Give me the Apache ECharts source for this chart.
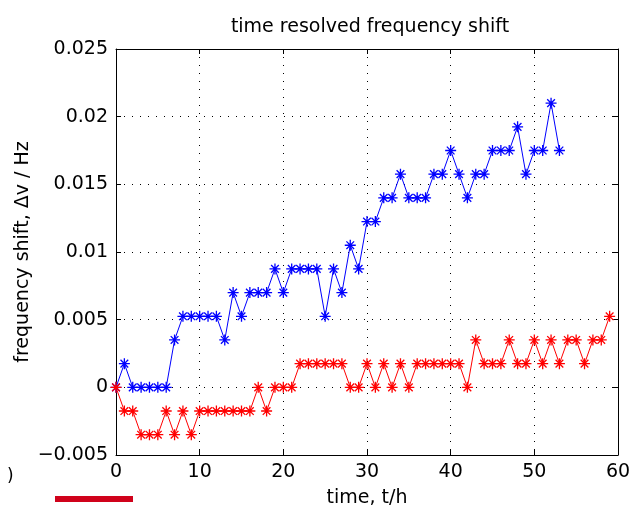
<!DOCTYPE html>
<html>
<head>
<meta charset="utf-8">
<script src="https://cdn.jsdelivr.net/npm/echarts@6/dist/echarts.min.js"></script>
<style>html,body{margin:0;padding:0;background:#fff}#c{width:630px;height:507px}</style>
</head>
<body>
<div id="c"></div>
<script>
const titleText = 'time resolved frequency shift';
const xLabel = 'time, t/h';
const yLabel = 'frequency shift, \u0394v / Hz';
const xTicks = [0, 10, 20, 30, 40, 50, 60];
const yTicks = [-0.005, 0, 0.005, 0.01, 0.015, 0.02, 0.025];
const blueTimes = [0,1,2,3,4,5,6,7,8,9,10,11,12,13,14,15,16,17,18,19,20,21,22,23,24,25,26,27,28,29,30,31,32,33,34,35,36,37,38,39,40,41,42,43,44,45,46,47,48,49,50,51,52,53];
const blueShift = [0,0.00175,0,0,0,0,0,0.0035,0.00525,0.00525,0.00525,0.00525,0.00525,0.0035,0.007,0.00525,0.007,0.007,0.007,0.00875,0.007,0.00875,0.00875,0.00875,0.00875,0.00525,0.00875,0.007,0.0105,0.00875,0.01225,0.01225,0.014,0.014,0.01575,0.014,0.014,0.014,0.01575,0.01575,0.0175,0.01575,0.014,0.01575,0.01575,0.0175,0.0175,0.0175,0.01925,0.01575,0.0175,0.0175,0.021,0.0175];
const redTimes = [0,1,2,3,4,5,6,7,8,9,10,11,12,13,14,15,16,17,18,19,20,21,22,23,24,25,26,27,28,29,30,31,32,33,34,35,36,37,38,39,40,41,42,43,44,45,46,47,48,49,50,51,52,53,54,55,56,57,58,59];
const redShift = [0,-0.00175,-0.00175,-0.0035,-0.0035,-0.0035,-0.00175,-0.0035,-0.00175,-0.0035,-0.00175,-0.00175,-0.00175,-0.00175,-0.00175,-0.00175,-0.00175,0,-0.00175,0,0,0,0.00175,0.00175,0.00175,0.00175,0.00175,0.00175,0,0,0.00175,0,0.00175,0,0.00175,0,0.00175,0.00175,0.00175,0.00175,0.00175,0.00175,0,0.0035,0.00175,0.00175,0.00175,0.0035,0.00175,0.00175,0.0035,0.00175,0.0035,0.00175,0.0035,0.0035,0.00175,0.0035,0.0035,0.00525];

const FONT = '"DejaVu Sans", sans-serif';
const FS = 19;
const star = 'path://M0,-1L0,1M-1,0L1,0M-0.7,-0.7L0.7,0.7M-0.7,0.7L0.7,-0.7';
const fmtY = v => { const s = String(+v.toFixed(3)); return s.replace('-', '\u2212'); };
const grid = { type: [1, 7], color: '#000', width: 1 };

const chart = echarts.init(document.getElementById('c'), null, { renderer: 'canvas' });
chart.setOption({
  animation: false,
  backgroundColor: '#fff',
  title: { text: titleText, left: 365, top: 13, textAlign: 'center',
    textStyle: { fontFamily: FONT, fontSize: FS, fontWeight: 'normal', color: '#000' } },
  grid: { left: 116, right: 12, top: 49, bottom: 52, containLabel: false, outerBoundsMode: 'none' },
  xAxis: [{
    type: 'value', min: xTicks[0], max: xTicks[xTicks.length - 1], interval: 10,
    name: xLabel, nameLocation: 'middle', nameGap: 34, nameMoveOverlap: false,
    nameTextStyle: { fontFamily: FONT, fontSize: FS, color: '#000' },
    axisLine: { show: true, onZero: false, lineStyle: { color: '#000' } },
    axisTick: { show: true, inside: true, length: 5, lineStyle: { color: '#000' } },
    axisLabel: { fontFamily: FONT, fontSize: FS, color: '#000', margin: 8 },
    splitLine: { show: true, lineStyle: grid }
  }, {
    type: 'value', position: 'top', min: xTicks[0], max: xTicks[xTicks.length - 1], interval: 10,
    axisLine: { show: true, onZero: false, lineStyle: { color: '#000' } },
    axisTick: { show: true, inside: true, length: 5, lineStyle: { color: '#000' } },
    axisLabel: { show: false }, splitLine: { show: false }
  }],
  yAxis: [{
    type: 'value', min: yTicks[0], max: yTicks[yTicks.length - 1], interval: 0.005,
    name: yLabel, nameLocation: 'middle', nameGap: 83, nameRotate: 90, nameMoveOverlap: false,
    nameTextStyle: { fontFamily: FONT, fontSize: FS, color: '#000' },
    axisLine: { show: true, onZero: false, lineStyle: { color: '#000' } },
    axisTick: { show: true, inside: true, length: 5, lineStyle: { color: '#000' } },
    axisLabel: { fontFamily: FONT, fontSize: FS, color: '#000', margin: 8, formatter: fmtY },
    splitLine: { show: true, lineStyle: grid }
  }, {
    type: 'value', position: 'right', min: yTicks[0], max: yTicks[yTicks.length - 1], interval: 0.005,
    axisLine: { show: true, onZero: false, lineStyle: { color: '#000' } },
    axisTick: { show: true, inside: true, length: 5, lineStyle: { color: '#000' } },
    axisLabel: { show: false }, splitLine: { show: false }
  }],
  series: [{
    type: 'line', name: 'blue', xAxisIndex: 0, yAxisIndex: 0,
    data: blueTimes.map((t, i) => [t, blueShift[i]]),
    symbol: star, symbolSize: 11, showAllSymbol: true,
    lineStyle: { color: '#0000ff', width: 1 },
    itemStyle: { color: 'rgba(0,0,0,0)', borderColor: '#0000ff', borderWidth: 1.3 }
  }, {
    type: 'line', name: 'red', xAxisIndex: 0, yAxisIndex: 0,
    data: redTimes.map((t, i) => [t, redShift[i]]),
    symbol: star, symbolSize: 11, showAllSymbol: true,
    lineStyle: { color: '#ff0000', width: 1 },
    itemStyle: { color: 'rgba(0,0,0,0)', borderColor: '#ff0000', borderWidth: 1.3 }
  }],
  graphic: [
    { type: 'text', left: 7, top: 468, style: { text: ')', font: '17px ' + FONT, fill: '#000' } },
    { type: 'rect', shape: { x: 55, y: 496, width: 78, height: 6 }, style: { fill: '#d0021b' } }
  ]
});
</script>
</body>
</html>
